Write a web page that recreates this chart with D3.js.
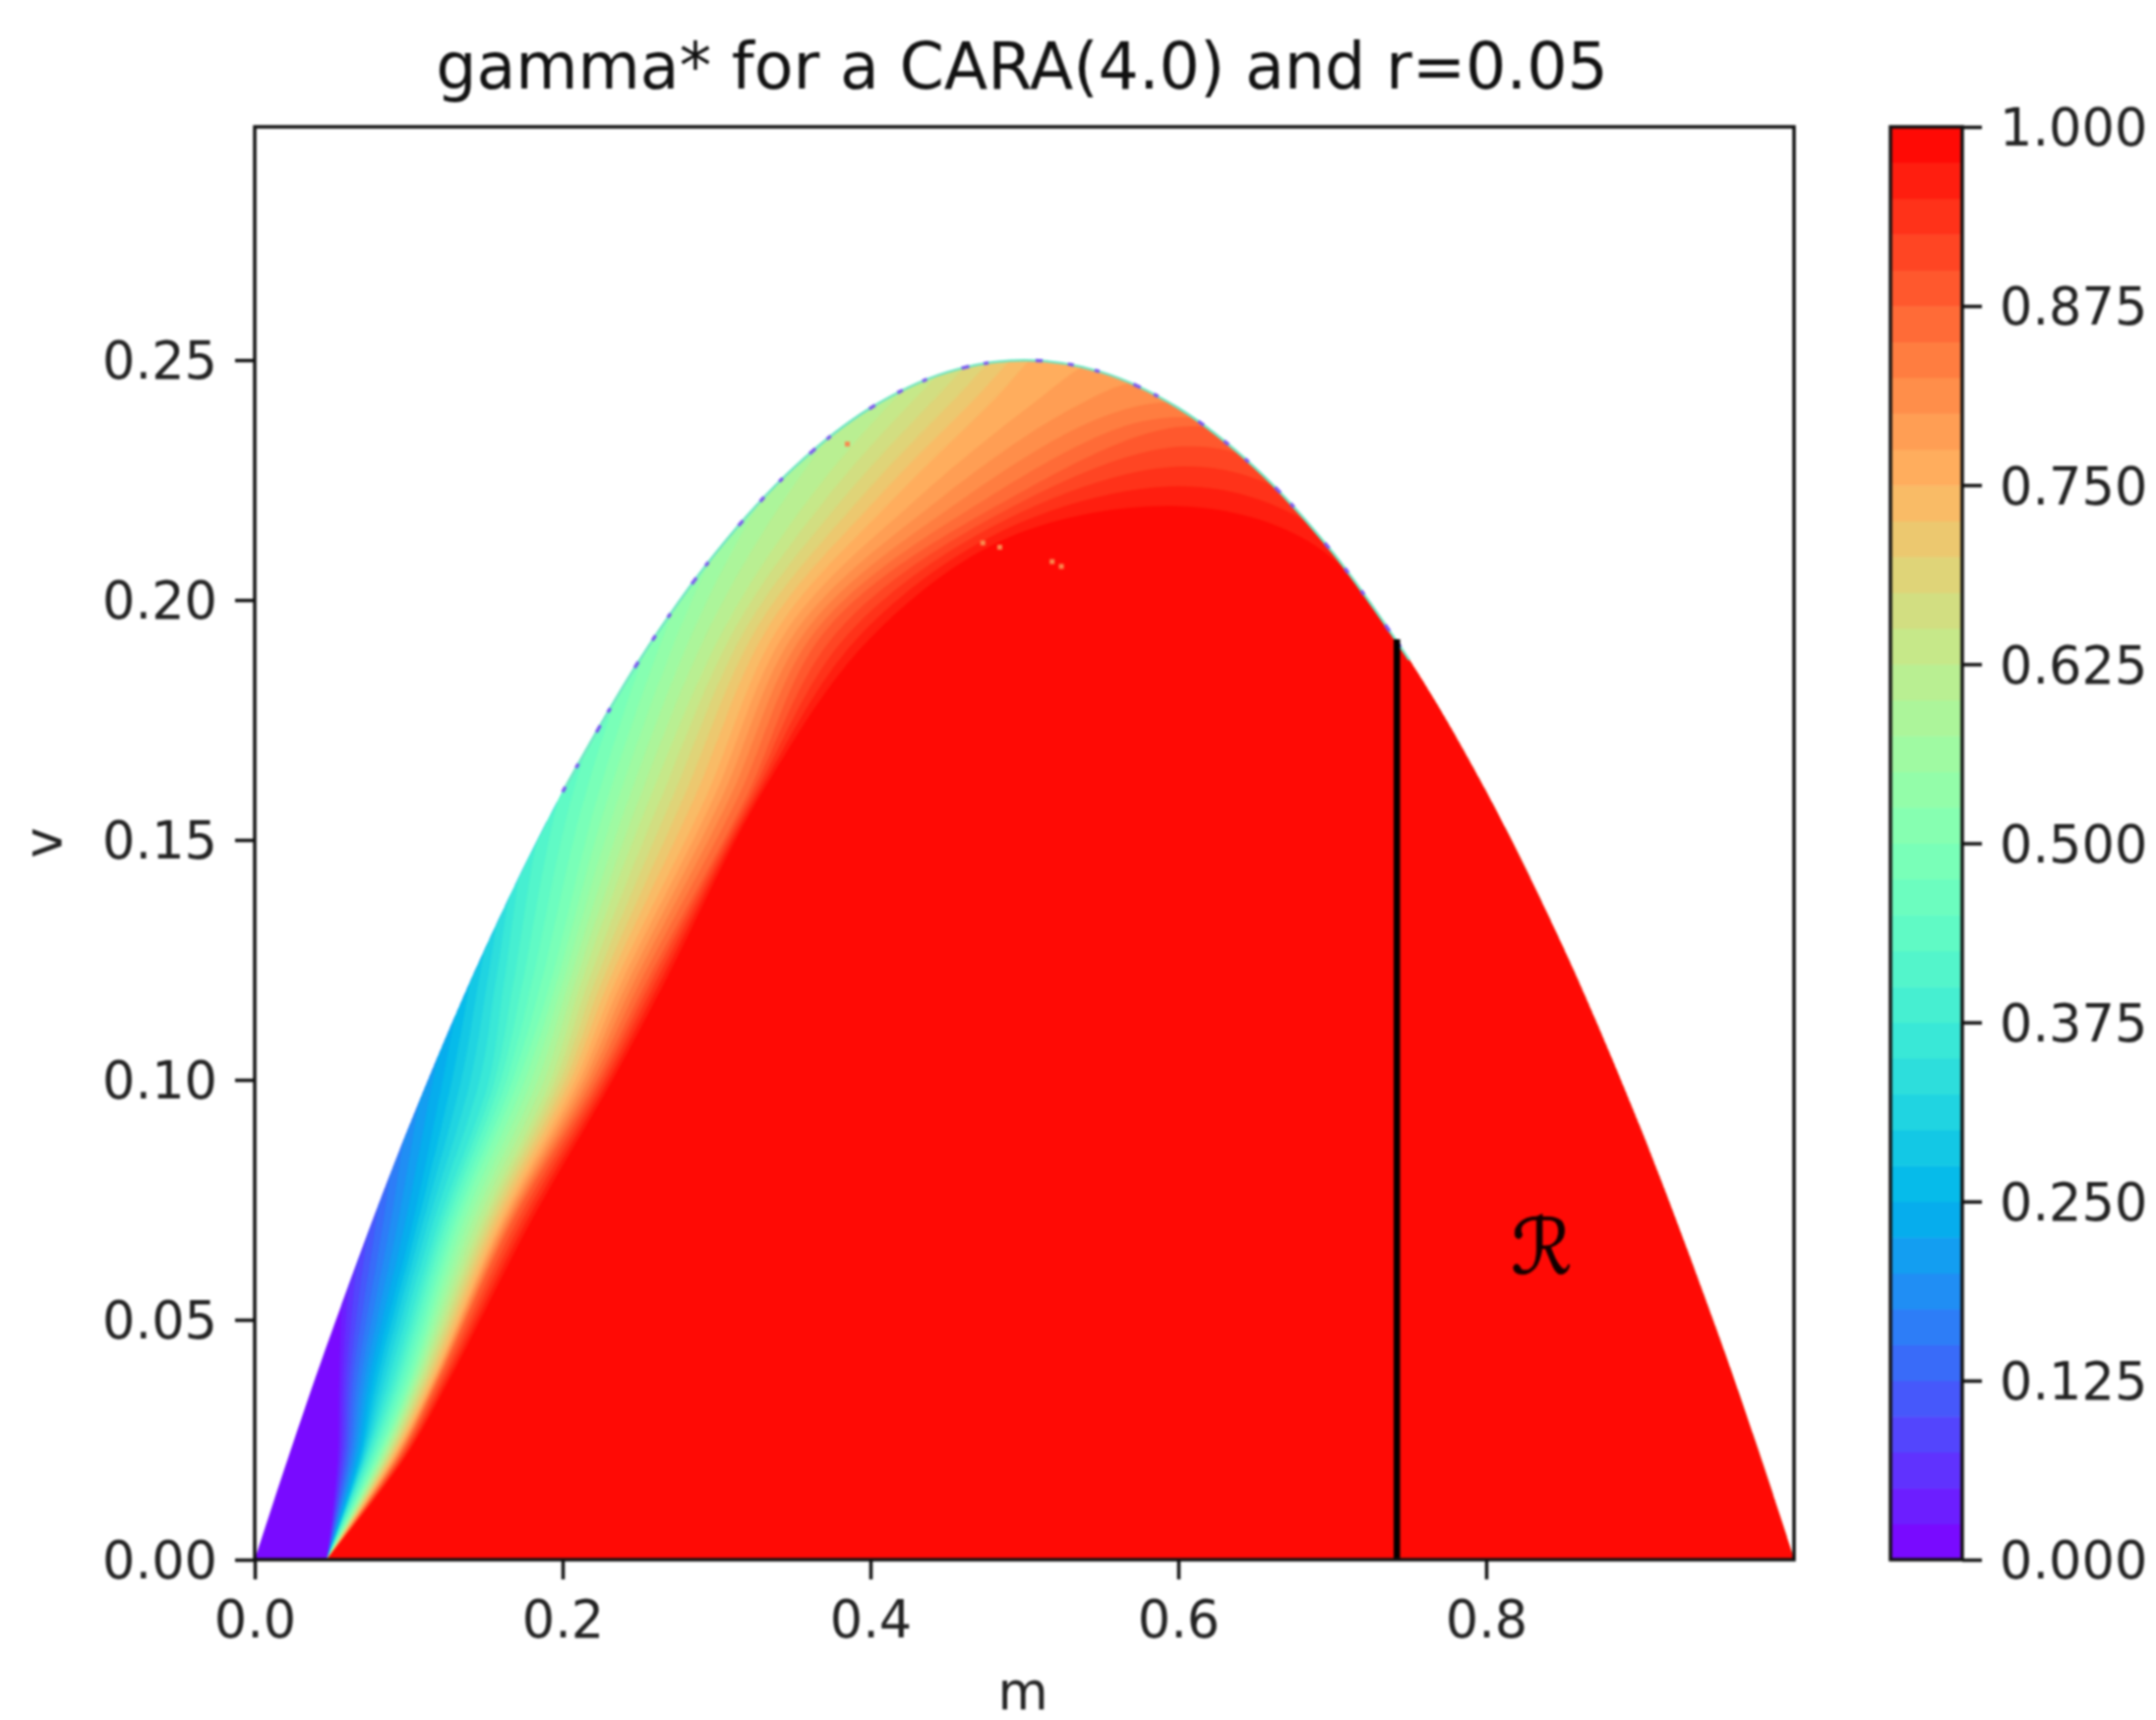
<!DOCTYPE html>
<html>
<head>
<meta charset="utf-8">
<script src="https://cdn.jsdelivr.net/npm/d3@7"></script>
<style>
  html, body { margin: 0; padding: 0; background: #fff; }
  svg { display: block; filter: blur(1.2px); }
  text { font-family: "DejaVu Sans", sans-serif; fill: #111; }
</style>
</head>
<body>
<div id="chart"></div>
<script>
// upper edge of the filled region
var edgeM = [0, 0.01, 0.025, 0.05, 0.1, 0.15, 0.2, 0.25, 0.3, 0.35, 0.4, 0.45, 0.5, 0.55, 0.6, 0.65, 0.7, 0.75, 0.8, 0.85, 0.9, 0.95, 0.975, 0.99, 1];
var edgeV = [0, 0.0099, 0.0244, 0.0475, 0.09, 0.1275, 0.16, 0.1875, 0.21, 0.2275, 0.24, 0.2475, 0.25, 0.2475, 0.24, 0.2275, 0.21, 0.1875, 0.16, 0.1275, 0.09, 0.0475, 0.0244, 0.0099, 0];

// gamma level lines, [m, v], all starting at the point where m = r
var iso025 = [[0.047,0],[0.054,0.0213],[0.055,0.0377],[0.06,0.0707],[0.075,0.0996],[0.095,0.125],[0.125,0.16],[0.16,0.2],[0.21,0.23],[0.26,0.26],[0.31,0.28],[0.39,0.29],[0.52,0.3]];
var iso125 = [[0.047,0],[0.06,0.0213],[0.064,0.0377],[0.079,0.0707],[0.09,0.0996],[0.11,0.125],[0.14,0.16],[0.18,0.2],[0.23,0.23],[0.28,0.26],[0.33,0.28],[0.41,0.29],[0.54,0.3]];
var iso250 = [[0.047,0],[0.068,0.0213],[0.077,0.0377],[0.103,0.0707],[0.122,0.0996],[0.137,0.125],[0.16,0.16],[0.2,0.2],[0.25,0.23],[0.3,0.26],[0.35,0.28],[0.43,0.29],[0.56,0.3]];
var iso375 = [[0.047,0],[0.073,0.0213],[0.09,0.0377],[0.12,0.0707],[0.152,0.0996],[0.162,0.12],[0.182,0.16],[0.225,0.2],[0.27,0.23],[0.32,0.26],[0.37,0.28],[0.45,0.29],[0.58,0.3]];
var iso500 = [[0.047,0],[0.08,0.0213],[0.101,0.0377],[0.133,0.0707],[0.171,0.0996],[0.192,0.12],[0.222,0.158],[0.265,0.2],[0.3,0.23],[0.35,0.26],[0.4,0.28],[0.48,0.29],[0.6,0.3]];
var iso625 = [[0.047,0],[0.085,0.0213],[0.108,0.0377],[0.148,0.0707],[0.192,0.0996],[0.212,0.12],[0.256,0.158],[0.305,0.194],[0.36,0.221],[0.415,0.2416],[0.46,0.255],[0.54,0.27],[0.65,0.28]];
var iso750 = [[0.047,0],[0.09,0.0213],[0.116,0.0377],[0.16,0.0707],[0.208,0.0996],[0.234,0.12],[0.292,0.158],[0.34,0.194],[0.415,0.221],[0.48,0.2416],[0.52,0.255],[0.6,0.27],[0.7,0.28]];
var iso875 = [[0.047,0],[0.094,0.0213],[0.12,0.0377],[0.168,0.0707],[0.222,0.0996],[0.254,0.12],[0.318,0.158],[0.372,0.194],[0.49,0.221],[0.6,0.236],[0.66,0.232],[0.75,0.21],[0.85,0.17]];
var iso975 = [[0.047,0],[0.098,0.0213],[0.127,0.0377],[0.18,0.0707],[0.232,0.0996],[0.266,0.12],[0.33,0.16],[0.4,0.192],[0.49,0.213],[0.6,0.2195],[0.68,0.213],[0.745,0.194],[0.8,0.17]];

var isoLevels = [0.025, 0.125, 0.25, 0.375, 0.5, 0.625, 0.75, 0.875, 0.975];
var isoLines = [iso025, iso125, iso250, iso375, iso500, iso625, iso750, iso875, iso975];

// vertical line and its label
var lineM = 0.742;
var lineV = 0.1918;
var labelM = 0.836;
var labelV = 0.0654;

// small stray cells near the red edge
var strayPoints = [[0.473,0.2119],[0.484,0.211],[0.518,0.208],[0.524,0.207],[0.385,0.2325]];

var xTicks = [0, 0.2, 0.4, 0.6, 0.8];
var yTicks = [0, 0.05, 0.1, 0.15, 0.2, 0.25];
var barTicks = [0, 0.125, 0.25, 0.375, 0.5, 0.625, 0.75, 0.875, 1];

var bandStep = 0.025;
var bandCount = 40;

// matplotlib rainbow colormap
function rainbow(t) {
    var r = Math.min(1, Math.abs(2 * t - 0.5));
    var g = Math.sin(Math.PI * t);
    var b = Math.cos(Math.PI * t / 2);
    return d3.rgb(r * 255, g * 255, b * 255).formatHex();
}

function lineForLevel(level) {
    var i = d3.bisectRight(isoLevels, level) - 1;
    i = Math.max(0, Math.min(isoLevels.length - 2, i));
    var f = (level - isoLevels[i]) / (isoLevels[i + 1] - isoLevels[i]);
    return isoLines[i].map(function(p, j) {
        var q = isoLines[i + 1][j];
        return [p[0] + (q[0] - p[0]) * f, p[1] + (q[1] - p[1]) * f];
    });
}

var width = 2192, height = 1749;
var left = 259, right = 1824, top_ = 129, bottom = 1586;
var barLeft = 1922, barRight = 1995;
var fontTick = 52.5, fontTitle = 65;

var svg = d3.select('#chart').append('svg')
    .attr('width', width)
    .attr('height', height)
    .attr('viewBox', '0 0 ' + width + ' ' + height);

var x = d3.scaleLinear().domain([0, 1]).range([left, right]);
var y = d3.scaleLinear().domain([0, 0.2986]).range([bottom, top_]);
var yBar = d3.scaleLinear().domain([0, 1]).range([bottom, top_]);

var edge = d3.line()
    .x(function(d){ return x(d[0]); })
    .y(function(d){ return y(d[1]); })
    .curve(d3.curveCatmullRom.alpha(0.5));

var edgePoints = edgeM.map(function(m, i){ return [m, edgeV[i]]; });

svg.append('clipPath').attr('id', 'region')
    .append('path')
    .attr('d', edge(edgePoints) + 'Z');

var field = svg.append('g').attr('clip-path', 'url(#region)');

// lowest band fills the whole region, each next one is painted on top
field.append('rect')
    .attr('x', left).attr('y', top_)
    .attr('width', right - left).attr('height', bottom - top_)
    .attr('fill', rainbow(bandStep / 2));

d3.range(1, bandCount).forEach(function(k) {
    var level = k * bandStep;
    var pts = lineForLevel(level);
    var d = edge(pts) +
        'L' + x(1.1) + ',' + y(0.35) +
        'L' + x(1.1) + ',' + (bottom + 5) +
        'L' + x(0.047) + ',' + (bottom + 5) + 'Z';
    field.append('path')
        .attr('d', d)
        .attr('fill', rainbow(level + bandStep / 2))
        .attr('stroke', rainbow(level + bandStep / 2))
        .attr('stroke-width', 0.5);
});

// speckled rim along the top of the region
var rim = edgePoints.filter(function(p){ return p[0] >= 0.2 && p[0] <= 0.75; });
svg.append('path')
    .attr('d', edge(rim))
    .attr('fill', 'none')
    .attr('stroke', '#6fe6c4')
    .attr('stroke-width', 2.5);
svg.append('path')
    .attr('d', edge(rim))
    .attr('fill', 'none')
    .attr('stroke', '#7a5cf0')
    .attr('stroke-width', 3.5)
    .attr('stroke-dasharray', '6 22 5 37 8 15 5 48 7 26');

svg.selectAll('rect.stray')
    .data(strayPoints)
    .enter()
    .append('rect')
    .attr('class', 'stray')
    .attr('x', function(d){ return x(d[0]) - 2.5; })
    .attr('y', function(d){ return y(d[1]) - 2.5; })
    .attr('width', 5)
    .attr('height', 5)
    .attr('fill', '#f98a50');

svg.append('line')
    .attr('x1', x(lineM)).attr('x2', x(lineM))
    .attr('y1', y(0)).attr('y2', y(lineV))
    .attr('stroke', '#000')
    .attr('stroke-width', 6.5);

svg.append('text')
    .attr('x', x(labelM))
    .attr('y', y(labelV))
    .attr('dy', '0.36em')
    .attr('text-anchor', 'middle')
    .style('font-family', '"DejaVu Sans", sans-serif')
    .style('font-style', 'oblique')
    .style('font-size', '78px')
    .style('fill', '#100')
    .style('stroke', '#100')
    .style('stroke-width', 0.8)
    .text('\u211B');

// frame and axes
svg.append('rect')
    .attr('x', left).attr('y', top_)
    .attr('width', right - left).attr('height', bottom - top_)
    .attr('fill', 'none')
    .attr('stroke', '#111')
    .attr('stroke-width', 3.5);

function styleAxis(g) {
    g.select('.domain').remove();
    g.selectAll('.tick line').attr('stroke', '#111').attr('stroke-width', 3.5);
    g.selectAll('.tick text').style('font-size', fontTick + 'px').style('fill', '#222');
}

var xAxis = svg.append('g')
    .attr('transform', 'translate(0,' + bottom + ')')
    .call(d3.axisBottom(x).tickValues(xTicks).tickFormat(d3.format('.1f')).tickSize(20).tickPadding(22));
styleAxis(xAxis);

var yAxis = svg.append('g')
    .attr('transform', 'translate(' + left + ',0)')
    .call(d3.axisLeft(y).tickValues(yTicks).tickFormat(d3.format('.2f')).tickSize(20).tickPadding(18));
styleAxis(yAxis);
yAxis.selectAll('.tick text').attr('y', 2);

// colour bar
svg.selectAll('rect.band')
    .data(d3.range(bandCount))
    .enter()
    .append('rect')
    .attr('class', 'band')
    .attr('x', barLeft)
    .attr('width', barRight - barLeft)
    .attr('y', function(d){ return yBar((d + 1) * bandStep); })
    .attr('height', function(d){ return yBar(d * bandStep) - yBar((d + 1) * bandStep) + 0.5; })
    .attr('fill', function(d){ return rainbow((d + 0.5) * bandStep); });

svg.append('rect')
    .attr('x', barLeft).attr('y', top_)
    .attr('width', barRight - barLeft).attr('height', bottom - top_)
    .attr('fill', 'none')
    .attr('stroke', '#111')
    .attr('stroke-width', 3.5);

var barAxis = svg.append('g')
    .attr('transform', 'translate(' + barRight + ',0)')
    .call(d3.axisRight(yBar).tickValues(barTicks).tickFormat(d3.format('.3f')).tickSize(20).tickPadding(18));
styleAxis(barAxis);
barAxis.selectAll('.tick text').attr('y', 2);

// title and axis labels
svg.append('text')
    .attr('x', 1039).attr('y', 90)
    .attr('text-anchor', 'middle')
    .style('font-size', fontTitle + 'px')
    .text('gamma* for a CARA(4.0) and r=0.05');

svg.append('text')
    .attr('x', 1040).attr('y', 1738)
    .attr('text-anchor', 'middle')
    .style('font-size', fontTick + 'px')
    .style('fill', '#222')
    .text('m');

svg.append('text')
    .attr('transform', 'translate(62,857) rotate(-90)')
    .attr('text-anchor', 'middle')
    .style('font-size', fontTick + 'px')
    .style('fill', '#222')
    .text('v');
</script>
</body>
</html>
